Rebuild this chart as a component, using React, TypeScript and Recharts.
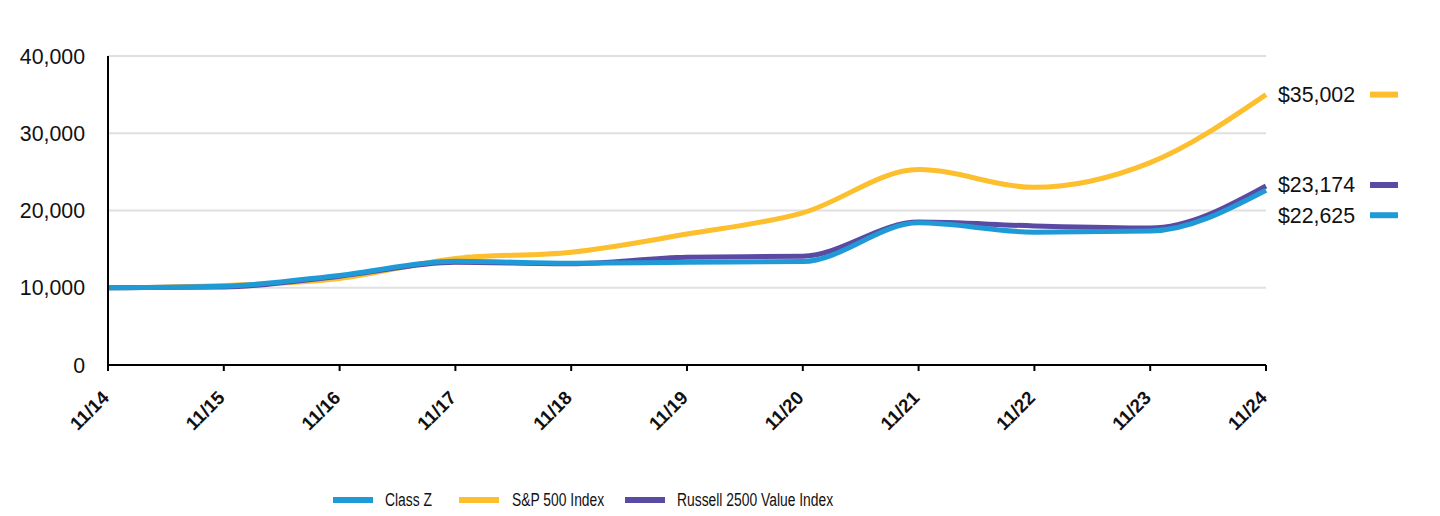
import { LineChart, Line, XAxis, YAxis, CartesianGrid, Legend } from "recharts";

const years = ["11/14", "11/15", "11/16", "11/17", "11/18", "11/19", "11/20", "11/21", "11/22", "11/23", "11/24"];
const classZ = [10000, 10200, 11600, 13430, 13170, 13300, 13400, 18400, 17200, 17340, 22625];
const sp500 = [10000, 10300, 11200, 13800, 14600, 16950, 19700, 25300, 23000, 26200, 35002];
const russell = [10000, 10100, 11500, 13300, 13100, 13950, 14080, 18500, 18000, 17730, 23174];
const yTicks = [0, 10000, 20000, 30000, 40000];

const series = [
  { key: "classZ", name: "Class Z", color: "#1f9ad6", left: 325, textLeft: 377 },
  { key: "sp500", name: "S&P 500 Index", color: "#fdbf2d", left: 451, textLeft: 504 },
  { key: "russell", name: "Russell 2500 Value Index", color: "#5a4aa4", left: 617, textLeft: 669 },
];

const data = years.map((d, i) => ({
  date: d,
  classZ: classZ[i],
  sp500: sp500[i],
  russell: russell[i],
}));

const FONT = "'Liberation Sans', Arial, sans-serif";
const fmt = (v: number) => v.toLocaleString("en-US");

// label drawn at the last point of each line, with a short colour swatch after it
const endLabel = (color: string, shift: number) => (props: any) => {
  const { x, y, index, value } = props;
  if (index !== years.length - 1) return null;
  const ly = y + shift;
  return (
    <g>
      <text x={x + 12} y={ly} dy={7.5} fontSize={21.33} fill="#111" fontFamily={FONT}>
        {"$" + fmt(value)}
      </text>
      <line x1={x + 104} x2={x + 132} y1={ly} y2={ly} stroke={color} strokeWidth={6} />
    </g>
  );
};

const XTick = (props: any) => {
  const { x, y, payload } = props;
  const tx = x + 2;
  const ty = y + 26;
  return (
    <text
      x={tx}
      y={ty}
      transform={`rotate(-45, ${tx}, ${ty})`}
      textAnchor="end"
      fontSize={18.67}
      fontWeight="bold"
      fill="#111"
      fontFamily={FONT}
    >
      {payload.value}
    </text>
  );
};

// the legend text in the original is a condensed face, so squeeze it
const LegendContent = () => (
  <div style={{ position: "relative", height: 30, fontFamily: FONT, fontSize: 18, color: "#111" }}>
    {series.map((s) => (
      <div key={s.key}>
        <div style={{ position: "absolute", left: s.left, top: 16, width: 40, height: 6, background: s.color }} />
        <span
          style={{
            position: "absolute",
            left: s.textLeft,
            top: 8,
            whiteSpace: "nowrap",
            lineHeight: "22px",
            transform: "scaleX(0.77)",
            transformOrigin: "left center",
          }}
        >
          {s.name}
        </span>
      </div>
    ))}
  </div>
);

export default function App() {
  return (
    <LineChart width={1424} height={508} data={data} margin={{ top: 48, right: 166, left: 0, bottom: 5 }}>
      <CartesianGrid vertical={false} stroke="#e0e0e0" strokeWidth={2} />
      <XAxis
        dataKey="date"
        tick={<XTick />}
        tickSize={6}
        axisLine={{ stroke: "#000", strokeWidth: 2 }}
        tickLine={{ stroke: "#000", strokeWidth: 2 }}
        height={116}
        interval={0}
      />
      <YAxis
        domain={[0, 40000]}
        ticks={yTicks}
        tickFormatter={fmt}
        width={100}
        axisLine={{ stroke: "#000", strokeWidth: 2 }}
        tickLine={false}
        tickMargin={17}
        tick={{ fontSize: 21.33, fill: "#111", fontFamily: FONT }}
      />
      <Legend verticalAlign="bottom" height={30} content={<LegendContent />} />
      <Line type="monotone" dataKey="sp500" name="S&P 500 Index" stroke="#fdbf2d" strokeWidth={5} dot={false} isAnimationActive={false} label={endLabel("#fdbf2d", 0)} />
      <Line type="monotone" dataKey="russell" name="Russell 2500 Value Index" stroke="#5a4aa4" strokeWidth={5} dot={false} isAnimationActive={false} label={endLabel("#5a4aa4", -1)} />
      <Line type="monotone" dataKey="classZ" name="Class Z" stroke="#1f9ad6" strokeWidth={5} dot={false} isAnimationActive={false} label={endLabel("#1f9ad6", 25)} />
    </LineChart>
  );
}
